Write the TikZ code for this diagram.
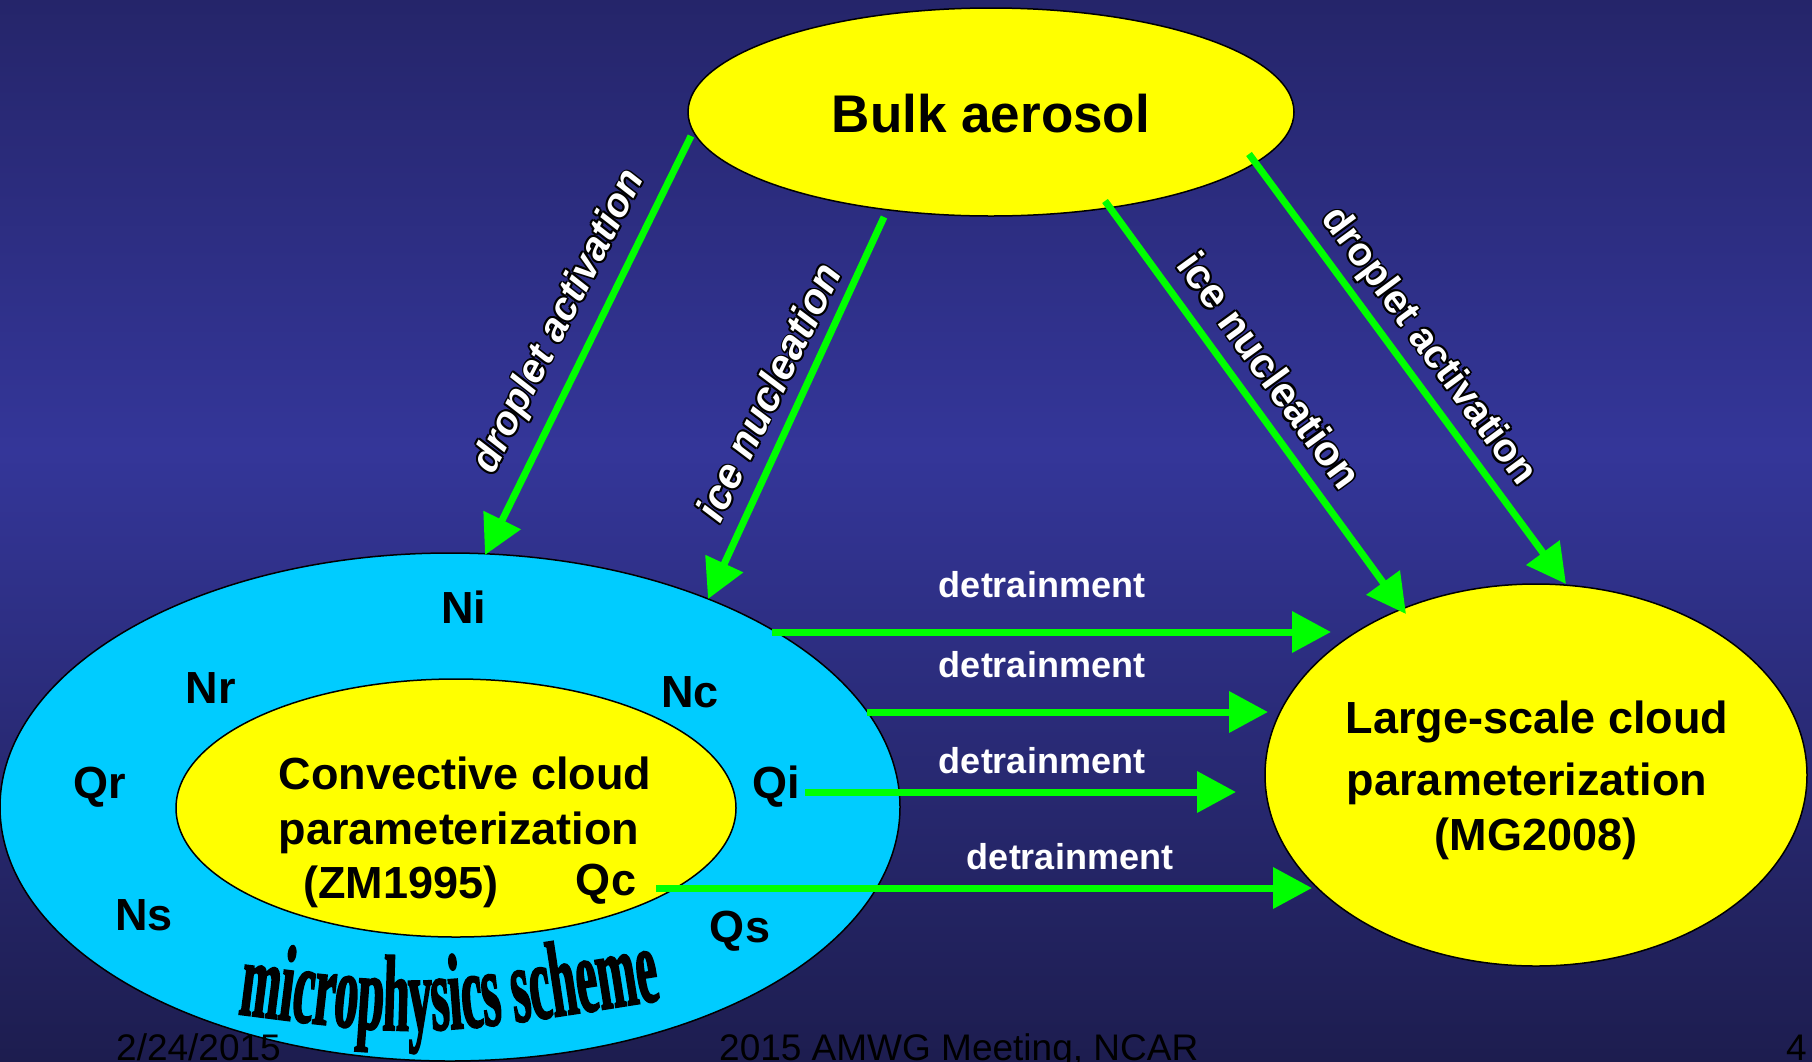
\documentclass[tikz,border=0pt]{standalone}
\usepackage{fontspec}
\setmainfont{Liberation Sans}
\newfontfamily\msfont{Liberation Serif}[FakeStretch=0.44,FakeBold=1.5]
\usetikzlibrary{arrows.meta,shapes.geometric,decorations.text}
\definecolor{bgtop}{HTML}{25256A}
\definecolor{bgmid}{HTML}{343699}
\definecolor{bgbot}{HTML}{1D1D4F}
\definecolor{grn}{HTML}{00FF00}
\definecolor{ylw}{HTML}{FFFF00}
\definecolor{cyn}{HTML}{00CCFF}
\newcommand{\olcopy}[3]{\rlap{\hspace*{#1}\raisebox{#2}{\color{black}#3}}}
\newcommand{\outlined}[1]{%
\olcopy{-2pt}{0pt}{#1}\olcopy{2pt}{0pt}{#1}\olcopy{0pt}{2pt}{#1}\olcopy{0pt}{-2pt}{#1}%
\olcopy{-1.4pt}{1.4pt}{#1}\olcopy{1.4pt}{1.4pt}{#1}\olcopy{-1.4pt}{-1.4pt}{#1}\olcopy{1.4pt}{-1.4pt}{#1}%
{\color{white}#1}}
\tikzset{
  blob/.style={ellipse, draw=black, line width=1.5pt, inner sep=0pt},
  lbl/.style={font=\fontsize{45}{54}\selectfont\bfseries, text=black, inner sep=0pt, anchor=base},
  det/.style={font=\fontsize{36}{40}\selectfont\bfseries, text=white, inner sep=0pt, anchor=base},
  greenarrow/.style={draw=grn, line width=7pt, -{Triangle[length=39pt,width=40pt]}},
  rotlbl/.style={inner sep=0pt},
  foot/.style={font=\fontsize{37}{40}\selectfont, text=black, inner sep=0pt, anchor=base west}
}
\begin{document}
\begin{tikzpicture}[x=1pt,y=-1pt]
\useasboundingbox (0,0) rectangle (1812,1061);
\shade[top color=bgtop,bottom color=bgmid] (0,0) rectangle (1812,451);
\shade[top color=bgmid,bottom color=bgbot] (0,450) rectangle (1812,1061);

% ellipses
\node[blob, fill=cyn, minimum width=900pt, minimum height=508pt] (micro) at (450,807) {};
\node[blob, fill=ylw, minimum width=560pt, minimum height=258pt] (conv) at (456,808) {};
\node[blob, fill=ylw, minimum width=542pt, minimum height=382pt] (large) at (1536,775) {};
\node[blob, fill=ylw, minimum width=606pt, minimum height=208pt] (bulk) at (991,112) {};

% main texts
\node[lbl, font=\fontsize{53}{60}\selectfont\bfseries] (bulktxt) at (991,132) {Bulk aerosol};
\node[lbl] (conv1) at (465,789) {Convective cloud};
\node[lbl] (conv2) at (459,844) {parameterization};
\node[lbl] (conv3) at (401,898) {(ZM1995)};
\node[lbl] (large1) at (1537,733) {Large-scale cloud};
\node[lbl] (large2) at (1527,795) {parameterization};
\node[lbl] (large3) at (1536,850) {(MG2008)};

% species labels
\node[lbl] (Ni) at (464,623) {Ni};
\node[lbl] (Nr) at (211,703) {Nr};
\node[lbl] (Nc) at (690,707) {Nc};
\node[lbl] (Qr) at (100,798) {Qr};
\node[lbl] (Qi) at (776,798) {Qi};
\node[lbl] (Ns) at (144,930) {Ns};
\node[lbl] (Qc) at (606,895) {Qc};
\node[lbl] (Qs) at (740,942) {Qs};

% microphysics scheme (curved condensed text)
\path[decorate, decoration={text along path, text align=center,
  text={|\msfont\bfseries\fontsize{108}{108}\selectfont|microphysics scheme}}]
  (237,1014) .. controls (424,1038) .. (662,1000);

% detrainment labels
\node[det] (det1) at (1042,597) {detrainment};
\node[det] (det2) at (1042,677) {detrainment};
\node[det] (det3) at (1042,773) {detrainment};
\node[det] (det4) at (1070,869) {detrainment};

% arrow end points
\coordinate (d1s) at (772,632);  \coordinate (d1e) at (1331,632);
\coordinate (d2s) at (867,712);  \coordinate (d2e) at (1268,712);
\coordinate (d3s) at (805,792);  \coordinate (d3e) at (1236,792);
\coordinate (d4s) at (656,888);  \coordinate (d4e) at (1312,888);
\coordinate (a1s) at (691,136);  \coordinate (a1e) at (485,555);
\coordinate (a2s) at (884,217);  \coordinate (a2e) at (708,599);
\coordinate (a3s) at (1105,201); \coordinate (a3e) at (1406,614);
\coordinate (a4s) at (1249,154); \coordinate (a4e) at (1566,584);

\draw[greenarrow] (d1s) -- (d1e);
\draw[greenarrow] (d2s) -- (d2e);
\draw[greenarrow] (d3s) -- (d3e);
\draw[greenarrow] (d4s) -- (d4e);
\draw[greenarrow] (a1s) -- (a1e);
\draw[greenarrow] (a2s) -- (a2e);
\draw[greenarrow] (a3s) -- (a3e);
\draw[greenarrow] (a4s) -- (a4e);

% rotated labels
\node[rotlbl, rotate=63, font=\fontsize{40}{44}\selectfont\bfseries\itshape] (lda) at (560,322) {\outlined{droplet activation}};
\node[rotlbl, rotate=64, font=\fontsize{42}{46}\selectfont\bfseries\itshape] (lin) at (768,392) {\outlined{ice nucleation}};
\node[rotlbl, rotate=-54, font=\fontsize{42}{46}\selectfont\bfseries] (rin) at (1270,370) {\outlined{ice nucleation}};
\node[rotlbl, rotate=-53.6, font=\fontsize{40}{44}\selectfont\bfseries] (rda) at (1428,347) {\outlined{droplet activation}};

% footer
\node[foot] (date) at (116,1060) {2/24/2015};
\node[foot] (meet) at (719,1060) {2015 AMWG Meeting, NCAR};
\node[foot] (pg) at (1786,1060) {4};
\end{tikzpicture}
\end{document}
